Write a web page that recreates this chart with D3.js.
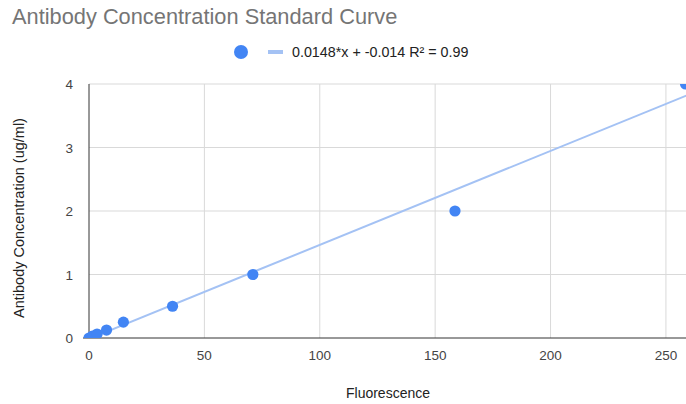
<!DOCTYPE html>
<html><head><meta charset="utf-8">
<script src="https://cdn.jsdelivr.net/npm/d3@7"></script>
<style>body{margin:0;background:#fff}svg{display:block;font-family:"Liberation Sans",Arial,sans-serif}</style>
</head><body>
<script>
const fluorescence = [0, 1.5, 3.5, 7.6, 14.9, 36.2, 71, 158.6, 258.5];
const concentration = [0, 0.03125, 0.0625, 0.125, 0.25, 0.5, 1, 2, 4];
const xTicks = [0, 50, 100, 150, 200, 250];
const yTicks = [0, 1, 2, 3, 4];
const slope = 0.0148, intercept = -0.014;
const legendLabel = "0.0148*x + -0.014 R² = 0.99";

const W = 686, H = 404;
const L = 89, R = 689, T = 84, B = 338;
const svg = d3.select("body").append("svg").attr("width", W).attr("height", H);
const x = d3.scaleLinear().domain([0, 260]).range([L, R]);
const y = d3.scaleLinear().domain([0, 4]).range([B, T]);

svg.append("text").attr("x", 12).attr("y", 24).attr("font-size", 21.8).attr("fill", "#757575")
  .text("Antibody Concentration Standard Curve");

// grid
svg.append("g").selectAll("line").data(yTicks.filter(d => d > 0)).join("line")
  .attr("x1", L).attr("x2", W).attr("y1", d => y(d)).attr("y2", d => y(d))
  .attr("stroke", "#d9d9d9").attr("stroke-width", 1);
svg.append("g").selectAll("line").data(xTicks.filter(d => d > 0)).join("line")
  .attr("y1", T).attr("y2", B).attr("x1", d => x(d)).attr("x2", d => x(d))
  .attr("stroke", "#d9d9d9").attr("stroke-width", 1);

// axes lines
svg.append("line").attr("x1", L).attr("x2", L).attr("y1", T).attr("y2", B).attr("stroke", "#333").attr("stroke-width", 1);
svg.append("line").attr("x1", L - 6).attr("x2", W).attr("y1", B).attr("y2", B).attr("stroke", "#333").attr("stroke-width", 1);

// tick labels
svg.append("g").selectAll("text").data(yTicks).join("text")
  .attr("x", 73).attr("y", d => y(d) + 5).attr("text-anchor", "end")
  .attr("font-size", 13.5).attr("fill", "#444").text(d => d);
svg.append("g").selectAll("text").data(xTicks).join("text")
  .attr("x", d => x(d)).attr("y", 360).attr("text-anchor", "middle")
  .attr("font-size", 13.5).attr("fill", "#444").text(d => d);

// axis titles
svg.append("text").attr("x", 388).attr("y", 398).attr("text-anchor", "middle")
  .attr("font-size", 14).attr("fill", "#222").text("Fluorescence");
svg.append("text").attr("transform", "translate(24,218) rotate(-90)").attr("text-anchor", "middle")
  .attr("font-size", 14.5).attr("fill", "#222").text("Antibody Concentration (ug/ml)");

// clip (vertical range of plot only)
svg.append("clipPath").attr("id", "clip").append("rect")
  .attr("x", 0).attr("y", T).attr("width", W).attr("height", B - T);
const plot = svg.append("g").attr("clip-path", "url(#clip)");

const xs = [0, 260];
plot.append("line")
  .attr("x1", x(xs[0])).attr("y1", y(slope * xs[0] + intercept))
  .attr("x2", x(xs[1])).attr("y2", y(slope * xs[1] + intercept))
  .attr("stroke", "#a4c2f4").attr("stroke-width", 2);

plot.selectAll("circle").data(fluorescence.map((f, i) => [f, concentration[i]])).join("circle")
  .attr("cx", d => x(d[0])).attr("cy", d => y(d[1])).attr("r", 5.6).attr("fill", "#4285f4");

// legend
svg.append("circle").attr("cx", 241).attr("cy", 52).attr("r", 7).attr("fill", "#4285f4");
svg.append("line").attr("x1", 268).attr("x2", 283).attr("y1", 52).attr("y2", 52)
  .attr("stroke", "#a4c2f4").attr("stroke-width", 4);
svg.append("text").attr("x", 292).attr("y", 57).attr("font-size", 14.3).attr("fill", "#222").text(legendLabel);
</script>
</body></html>
